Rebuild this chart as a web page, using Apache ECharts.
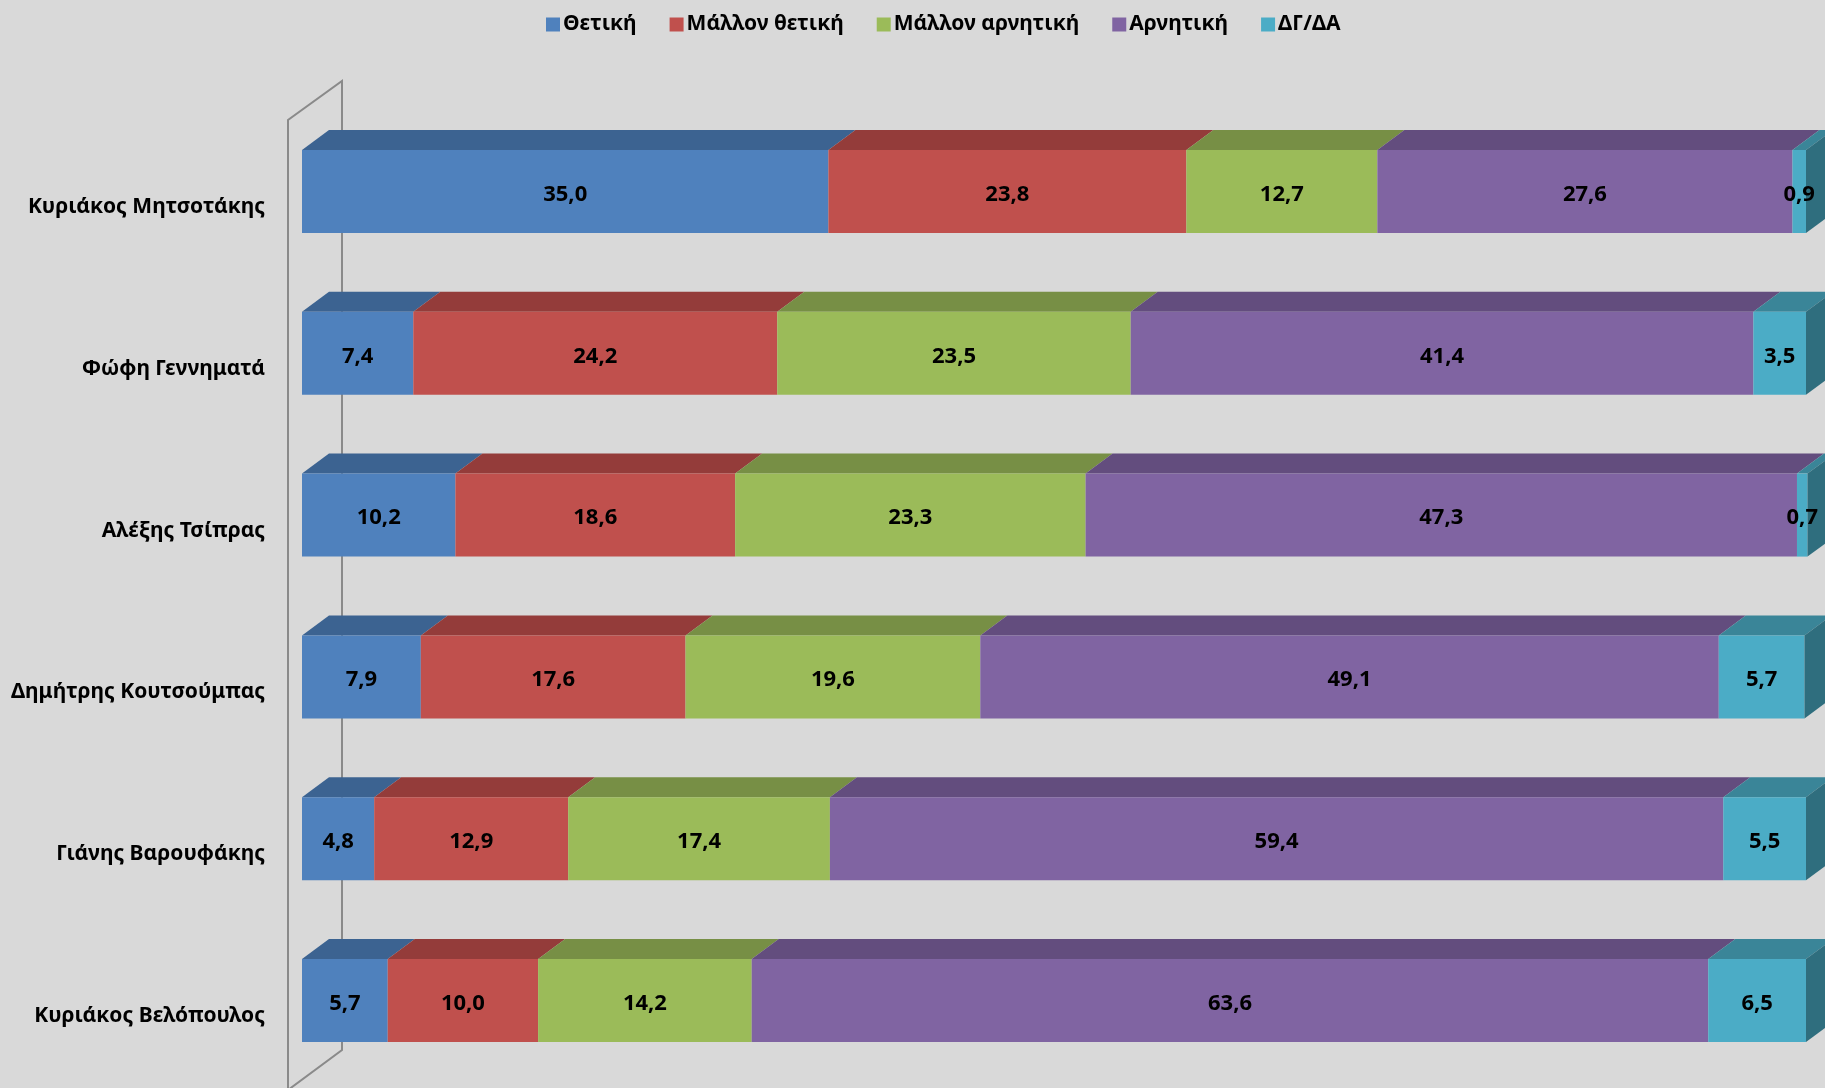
<!DOCTYPE html>
<html>
<head>
<meta charset="utf-8">
<script src="https://cdn.jsdelivr.net/npm/echarts@6/dist/echarts.min.js"></script>
<style>
html,body{margin:0;padding:0;background:#d9d9d9;}
#chart{width:1825px;height:1088px;}
</style>
</head>
<body>
<div id="chart"></div>
<script>
const categories = ['Κυριάκος Μητσοτάκης','Φώφη Γεννηματά','Αλέξης Τσίπρας','Δημήτρης Κουτσούμπας','Γιάνης Βαρουφάκης','Κυριάκος Βελόπουλος'];
const seriesNames = ['Θετική','Μάλλον θετική','Μάλλον αρνητική','Αρνητική','ΔΓ/ΔΑ'];
const positive = [35.0, 7.4, 10.2, 7.9, 4.8, 5.7];
const ratherPositive = [23.8, 24.2, 18.6, 17.6, 12.9, 10.0];
const ratherNegative = [12.7, 23.5, 23.3, 19.6, 17.4, 14.2];
const negative = [27.6, 41.4, 47.3, 49.1, 59.4, 63.6];
const dkna = [0.9, 3.5, 0.7, 5.7, 5.5, 6.5];
const seriesValues = [positive, ratherPositive, ratherNegative, negative, dkna];

const frontColors = ['#4F81BD','#C0504D','#9BBB59','#8064A2','#4BACC6'];
const topColors = ['#3C6391','#943C3A','#778F45','#634D7E','#3A8598'];
const sideColor = '#2F6E7E';
const FONT = '"Noto Sans", "DejaVu Sans", sans-serif';
const DX = 27, DY = 20;

const chart = echarts.init(document.getElementById('chart'));

const cum = categories.map(() => 0);
const series = seriesValues.map((vals, si) => {
  const data = vals.map((v, ci) => {
    const s = cum[ci];
    cum[ci] += v;
    return [s, s + v, ci, v];
  });
  return {
    name: seriesNames[si],
    type: 'custom',
    z: 2 + si,
    itemStyle: { color: frontColors[si] },
    encode: { x: [0, 1], y: 2 },
    data: data,
    renderItem: function (params, api) {
      const ci = api.value(2);
      const p0 = api.coord([api.value(0), ci]);
      const p1 = api.coord([api.value(1), ci]);
      const h = api.size([0, 1])[1] * 0.513;
      const x0 = p0[0], x1 = p1[0];
      const yTop = p0[1] - h / 2, yBot = p0[1] + h / 2;
      const children = [
        { type: 'polygon', shape: { points: [[x0, yTop], [x1, yTop], [x1 + DX, yTop - DY], [x0 + DX, yTop - DY]] },
          style: { fill: topColors[si] } },
        { type: 'rect', shape: { x: x0, y: yTop, width: x1 - x0, height: h },
          style: { fill: frontColors[si] } }
      ];
      if (si === seriesValues.length - 1) {
        children.push({ type: 'polygon', shape: { points: [[x1, yTop], [x1 + DX, yTop - DY], [x1 + DX, yBot - DY], [x1, yBot]] },
          style: { fill: sideColor } });
      }
      children.push({ type: 'text', z2: 10,
        style: { text: api.value(3).toFixed(1).replace('.', ','), x: (x0 + x1) / 2, y: p0[1] + 3,
          align: 'center', verticalAlign: 'middle', font: 'bold 22px ' + FONT, fill: '#000' } });
      return { type: 'group', children: children };
    }
  };
});

chart.setOption({
  backgroundColor: '#d9d9d9',
  animation: false,
  legend: {
    top: 9,
    left: 541,
    icon: 'rect',
    itemWidth: 14,
    itemHeight: 14,
    itemGap: 33,
    textStyle: { fontFamily: FONT, fontWeight: 'bold', fontSize: 21, color: '#000', padding: [0, 0, 0, -2] },
    data: seriesNames
  },
  grid: { left: 302, right: 19, top: 110.6, bottom: 6.6, containLabel: false, outerBoundsMode: 'none' },
  xAxis: { type: 'value', min: 0, max: 100, show: false },
  yAxis: {
    type: 'category',
    data: categories,
    inverse: true,
    axisLine: { show: false },
    axisTick: { show: false },
    axisLabel: { margin: 37, fontFamily: FONT, fontWeight: 'bold', fontSize: 21, color: '#000', verticalAlign: 'top', lineHeight: 31 }
  },
  graphic: [{
    type: 'polyline', z: 0, silent: true,
    shape: { points: [[288, 1095], [288, 120], [342, 81], [342, 1050], [288, 1090]] },
    style: { stroke: '#8a8a8a', lineWidth: 2, fill: null }
  }],
  series: series
});
</script>
</body>
</html>
